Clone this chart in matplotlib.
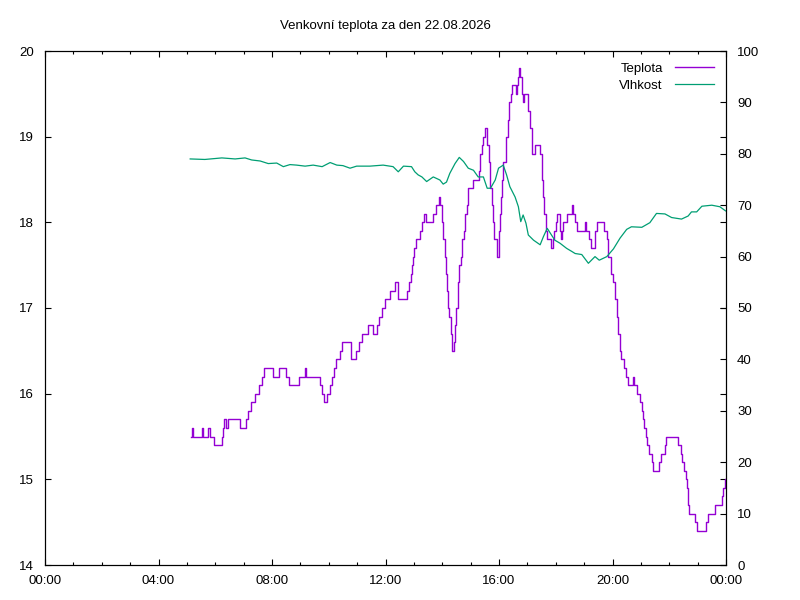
import matplotlib
matplotlib.use("Agg")
import matplotlib.pyplot as plt
from matplotlib.ticker import MultipleLocator, FuncFormatter

# minutes since midnight where the temperature reading changed, and the new value
temp_min = [308, 311, 314, 333, 335, 345, 348, 358, 374, 376, 378, 383, 386, 412,
            426, 429, 436, 445, 452, 459, 464, 482, 494, 509, 517, 538, 550, 552,
            582, 586, 591, 597, 602, 606, 611, 615, 624, 628, 646, 657, 663, 670,
            683, 694, 701, 706, 713, 719, 730, 740, 747, 765, 770, 773, 776, 779,
            781, 784, 793, 797, 802, 806, 820, 827, 833, 836, 839, 842, 845, 848,
            851, 853, 855, 858, 860, 861, 865, 867, 870, 873, 876, 879, 882, 885,
            888, 892, 895, 904, 917, 920, 924, 927, 930, 934, 938, 941, 945, 947,
            949, 955, 959, 962, 964, 967, 969, 974, 978, 982, 985, 988, 997, 999,
            1001, 1003, 1005, 1008, 1009, 1011, 1013, 1022, 1026, 1029, 1036, 1047,
            1050, 1053, 1055, 1059, 1061, 1071, 1075, 1077, 1080, 1082, 1089, 1091,
            1094, 1096, 1103, 1114, 1117, 1121, 1124, 1142, 1145, 1150, 1154, 1163,
            1168, 1181, 1188, 1191, 1197, 1202, 1205, 1209, 1212, 1216, 1219, 1224,
            1228, 1233, 1243, 1246, 1251, 1258, 1262, 1264, 1267, 1270, 1274, 1278,
            1283, 1285, 1298, 1302, 1310, 1313, 1339, 1344, 1348, 1351, 1355, 1357,
            1360, 1361, 1374, 1378, 1398, 1401, 1417, 1431, 1434, 1438, 1440]
teplota = [15.5, 15.6, 15.5, 15.6, 15.5, 15.6, 15.5, 15.4, 15.5, 15.6, 15.7, 15.6, 15.7, 15.6,
           15.7, 15.8, 15.9, 16.0, 16.1, 16.2, 16.3, 16.2, 16.3, 16.2, 16.1, 16.2, 16.3, 16.2,
           16.1, 16.0, 15.9, 16.0, 16.1, 16.2, 16.3, 16.4, 16.5, 16.6, 16.4, 16.5, 16.6, 16.7,
           16.8, 16.7, 16.8, 16.9, 17.0, 17.1, 17.2, 17.3, 17.1, 17.2, 17.3, 17.4, 17.5, 17.6,
           17.7, 17.8, 17.9, 18.0, 18.1, 18.0, 18.1, 18.2, 18.3, 18.2, 18.0, 17.8, 17.6, 17.4,
           17.2, 17.0, 16.9, 16.7, 16.6, 16.5, 16.6, 16.8, 17.0, 17.3, 17.5, 17.6, 17.8, 17.9,
           18.1, 18.2, 18.4, 18.5, 18.6, 18.8, 18.9, 19.0, 19.1, 18.9, 18.7, 18.4, 18.2, 18.0,
           17.8, 17.6, 17.9, 18.1, 18.3, 18.5, 18.7, 19.0, 19.2, 19.4, 19.5, 19.6, 19.5, 19.6,
           19.7, 19.8, 19.7, 19.6, 19.5, 19.4, 19.5, 19.3, 19.1, 18.8, 18.9, 18.8,
           18.5, 18.3, 18.1, 17.9, 17.8, 17.7, 17.8, 17.9, 18.0, 18.1, 17.9, 17.8,
           17.9, 18.0, 18.1, 18.2, 18.1, 18.0, 17.9, 18.0, 17.9, 17.8, 17.7, 17.9,
           18.0, 17.9, 17.8, 17.6, 17.4, 17.3, 17.1, 16.9, 16.7, 16.5, 16.4, 16.3,
           16.2, 16.1, 16.2, 16.1, 16.0, 15.9, 15.8, 15.7, 15.6, 15.5, 15.4, 15.3,
           15.2, 15.1, 15.2, 15.3, 15.4, 15.5, 15.4, 15.3, 15.2, 15.1, 15.0, 14.9,
           14.7, 14.6, 14.5, 14.4, 14.5, 14.6, 14.7, 14.8, 14.9, 15.0, 15.0]

# relative humidity samples (minutes since midnight, %)
vlh_min = [307, 338, 374, 402, 423, 437, 455, 472, 490, 504, 518, 532, 550, 567, 586,
           603, 617, 630, 645, 659, 687, 715, 736, 747, 758, 775, 782, 789, 797, 807,
           821, 835, 842, 849, 856, 867, 876, 885, 895, 906, 916, 927, 935, 942, 952,
           959, 969, 976, 983, 994, 1001, 1006, 1011, 1017, 1022, 1033, 1047, 1054,
           1062, 1071, 1078, 1089, 1103, 1114, 1121, 1135, 1149, 1163, 1172, 1188,
           1202, 1216, 1230, 1240, 1262, 1279, 1293, 1311, 1325, 1346, 1360, 1367,
           1378, 1389, 1410, 1427, 1439]
vlhkost = [79.0, 78.9, 79.2, 79.0, 79.2, 78.8, 78.6, 78.1, 78.2, 77.5, 77.9, 77.8, 77.6, 77.8, 77.5,
           78.3, 77.8, 77.7, 77.2, 77.6, 77.6, 77.8, 77.5, 76.5, 77.6, 77.5, 76.5, 75.9, 75.5, 74.6,
           75.5, 74.9, 74.1, 74.5, 76.2, 78.1, 79.3, 78.5, 77.2, 76.8, 75.5, 75.5, 73.3, 73.3, 74.9,
           77.2, 77.8, 75.9, 73.6, 71.6, 69.7, 66.8, 68.1, 66.5, 64.2, 63.2, 62.3, 63.9,
           65.5, 64.2, 63.2, 62.6, 61.6, 61.0, 60.6, 60.4, 58.7, 60.0, 59.3, 60.0,
           61.5, 63.6, 65.3, 65.8, 65.7, 66.6, 68.4, 68.3, 67.6, 67.3, 67.9, 68.7,
           68.7, 69.8, 70.0, 69.7, 68.9]

plt.rcParams['font.family'] = ['Liberation Sans', 'DejaVu Sans']
plt.rcParams['font.size'] = 9.5

fig = plt.figure(figsize=(8, 6), dpi=100)
ax = fig.add_axes([45 / 800, 35 / 600, 681 / 800, 514 / 600])
ax2 = ax.twinx()

t_h = [m / 60 for m in temp_min]
v_h = [m / 60 for m in vlh_min]
l1, = ax.plot(t_h, teplota, color='#9400d3', lw=1, drawstyle='steps-post', label='Teplota')
l2, = ax2.plot(v_h, vlhkost, color='#009e73', lw=0.9, label='Vlhkost')

ax.set_xlim(0, 24)
ax.set_ylim(14, 20)
ax2.set_ylim(0, 100)

ax.xaxis.set_major_locator(MultipleLocator(4))
ax.xaxis.set_minor_locator(MultipleLocator(1))
ax.xaxis.set_major_formatter(FuncFormatter(lambda v, p: '%02d:00' % (int(round(v)) % 24)))
ax.yaxis.set_major_locator(MultipleLocator(1))
ax2.yaxis.set_major_locator(MultipleLocator(10))

ax.tick_params(axis='x', which='both', direction='in', top=True, pad=7)
ax.tick_params(axis='x', which='major', length=4.5, width=0.8)
ax.tick_params(axis='x', which='minor', length=2.3, width=0.8)
ax.tick_params(axis='y', direction='in', right=True, length=4.5, width=0.8, pad=8)
ax2.tick_params(axis='y', direction='in', length=4.5, width=0.8, pad=8)
for a in (ax, ax2):
    for sp in a.spines.values():
        sp.set_linewidth(0.8)

ax.set_title('Venkovní teplota za den 22.08.2026', fontsize=9.5, pad=16)

leg = ax.legend([l1, l2], ['Teplota', 'Vlhkost'], loc='upper right', frameon=False,
                markerfirst=False, handlelength=3.0, handletextpad=0.9,
                labelspacing=0.35, borderaxespad=0.5, borderpad=0.4)
for t in leg.get_texts():
    t.set_ha('right')

fig.savefig('out.png', dpi=100)
